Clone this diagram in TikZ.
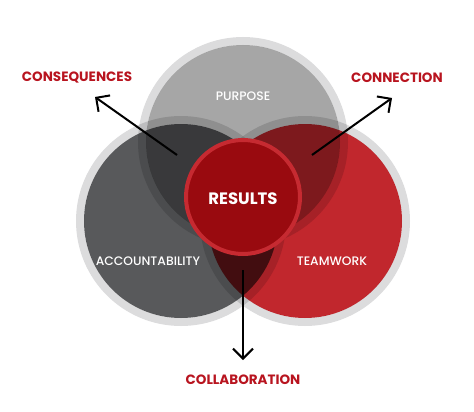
\documentclass[tikz,border=0pt]{standalone}
\usepackage{fontspec}
\setmainfont{Poppins}
\newfontfamily\medfont{Poppins}[UprightFont=* Medium]
\usepackage{tikz}
\usetikzlibrary{arrows.meta}
\usepackage{xcolor}

\definecolor{ringgrey}{HTML}{DCDCDD}
\definecolor{purposegrey}{HTML}{A6A6A6}
\definecolor{accgrey}{HTML}{58595B}
\definecolor{teamred}{HTML}{C1272D}
\definecolor{resultred}{HTML}{990A0F}
\definecolor{resultrim}{HTML}{C62A31}
\definecolor{labelred}{HTML}{B8141F}

\begin{document}
\begin{tikzpicture}[x=1pt, y=-1pt, >={Straight Barb[length=10pt, width=20pt]}]
    \tikzset{
        ring/.style={fill=ringgrey, even odd rule, blend mode=multiply},
        disc/.style={blend mode=multiply},
        inlbl/.style={text=white, font=\medfont\fontsize{12.3}{14}\selectfont},
        outlbl/.style={text=labelred, font=\bfseries\fontsize{13.5}{15}\selectfont},
        arr/.style={->, line width=2pt, black}
    }
    \useasboundingbox (0,0) rectangle (474,412);
    % circle centres
    \coordinate (purpose) at (243,142);
    \coordinate (account) at (181,221);
    \coordinate (team) at (305,221);
    \coordinate (result) at (243,197);
    % rings and discs, blended
    \foreach \c in {purpose, account, team}
        \fill[ring] (\c) circle (105) (\c) circle (97);
    \fill[disc, purposegrey] (purpose) circle (97);
    \fill[disc, accgrey] (account) circle (97);
    \fill[disc, teamred] (team) circle (97);
    \filldraw[fill=resultred, draw=resultrim, line width=4pt] (result) circle (57);
    % labels
    \node[inlbl] (purposetxt) at (243,96) {PURPOSE};
    \node[inlbl] (accounttxt) at (148,261) {ACCOUNTABILITY};
    \node[inlbl] (teamtxt) at (332,261) {TEAMWORK};
    \node[text=white, font=\bfseries\fontsize{16.5}{18}\selectfont] (resulttxt) at (243,199) {RESULTS};
    \node[outlbl] (conseq) at (77,78) {CONSEQUENCES};
    \node[outlbl] (connect) at (397,78) {CONNECTION};
    \node[outlbl] (collab) at (243,380) {COLLABORATION};
    % arrows
    \coordinate (conseqfrom) at (177,155);
    \coordinate (conseqto) at (95,97);
    \coordinate (connectfrom) at (312,155);
    \coordinate (connectto) at (392,98);
    \coordinate (collabfrom) at (243,270);
    \coordinate (collabto) at (243,360);
    \draw[arr] (conseqfrom) -- (conseqto);
    \draw[arr] (connectfrom) -- (connectto);
    \draw[arr] (collabfrom) -- (collabto);
\end{tikzpicture}
\end{document}
